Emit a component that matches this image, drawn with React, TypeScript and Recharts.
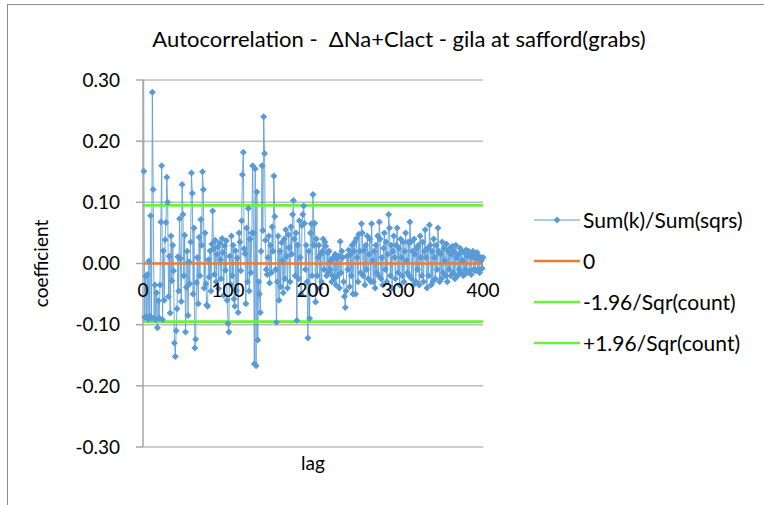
import { CartesianGrid, Legend, Line, LineChart, XAxis, YAxis } from "recharts";

// autocorrelation coefficient for lag 0..400 (lag 0 = 1, clipped off the top)
const coefficients: number[] = [
  1.0, 0.151, -0.088, -0.021, -0.087, -0.018, -0.091, 0.004, -0.086, 0.078,
  -0.089, 0.28, 0.121, -0.09, -0.035, -0.092, -0.048, -0.105, -0.061, -0.089,
  -0.035, 0.068, 0.16, -0.092, 0.021, -0.06, 0.039, 0.067, 0.141, 0.1,
  -0.054, 0.012, -0.081, 0.045, -0.028, 0.03, -0.012, -0.13, -0.152, -0.11,
  -0.074, 0.011, -0.045, 0.073, 0.008, -0.062, 0.129, 0.08, -0.02, 0.046,
  -0.112, -0.039, 0.02, -0.085, 0.003, -0.033, 0.035, 0.148, 0.115, -0.05,
  0.058, -0.138, -0.124, -0.031, 0.01, -0.066, 0.043, -0.02, 0.072, 0.03,
  0.15, 0.121, -0.04, 0.05, -0.033, -0.068, -0.07, 0.006, -0.022, 0.021,
  -0.045, 0.032, 0.086, 0.024, -0.018, 0.038, -0.03, 0.015, 0.027, -0.041,
  0.033, 0.006, -0.025, 0.041, 0.018, -0.052, 0.029, -0.011, 0.037, -0.06,
  -0.098, -0.112, 0.012, -0.034, 0.045, -0.02, 0.03, -0.058, -0.07, 0.021,
  -0.044, 0.009, -0.08, 0.05, 0.035, -0.012, 0.07, 0.145, 0.182, 0.024,
  0.016, -0.066, 0.058, -0.03, 0.09, -0.045, 0.04, -0.015, 0.05, 0.16,
  0.05, -0.164, 0.155, -0.167, 0.117, -0.125, -0.03, -0.05, -0.08, 0.02,
  0.16, 0.054, 0.24, 0.18, 0.038, -0.01, -0.018, 0.01, 0.045, -0.032,
  0.03, -0.015, 0.06, 0.02, 0.143, 0.077, -0.01, -0.096, -0.03, 0.045,
  -0.06, 0.02, -0.038, 0.034, 0.005, -0.048, 0.04, -0.025, 0.055, 0.012,
  -0.04, 0.047, 0.026, -0.03, 0.06, 0.015, 0.08, 0.103, 0.04, -0.02,
  0.05, -0.093, 0.03, -0.025, 0.07, 0.01, -0.05, 0.062, 0.08, 0.094,
  0.066, -0.01, 0.03, -0.03, -0.122, 0.02, -0.09, 0.05, 0.065, -0.02,
  0.113, 0.03, 0.066, -0.063, 0.04, -0.02, 0.01, 0.03, -0.04, 0.015,
  -0.03, 0.02, 0.04, -0.01, 0.035, 0.028, -0.02, 0.018, -0.015, 0.02,
  -0.01, 0.005, -0.03, -0.02, 0.01, -0.025, 0.015, -0.035, 0.008, -0.02,
  0.012, -0.04, 0.036, -0.015, 0.02, 0.01, -0.03, -0.054, -0.072, -0.045,
  0.012, -0.01, 0.022, -0.038, 0.015, -0.02, 0.03, -0.05, 0.02, 0.035,
  -0.05, 0.041, 0.01, -0.03, 0.048, 0.02, -0.015, 0.065, 0.05, -0.02,
  0.022, -0.035, 0.03, -0.01, 0.045, -0.025, 0.015, 0.04, -0.03, 0.065,
  0.005, -0.03, 0.02, -0.04, 0.03, -0.015, 0.045, -0.02, 0.068, 0.04,
  -0.025, 0.01, -0.035, 0.025, 0.05, -0.01, 0.035, -0.03, 0.015, 0.08,
  0.058, -0.02, 0.03, -0.04, 0.02, 0.045, 0.01, -0.025, 0.03, 0.058,
  -0.015, 0.025, -0.035, 0.04, 0.01, -0.02, 0.035, -0.03, 0.02, 0.05,
  0.005, -0.015, 0.035, -0.02, 0.068, 0.035, -0.025, 0.02, -0.035, 0.04,
  0.015, -0.03, 0.025, -0.01, 0.03, -0.035, 0.045, 0.01, -0.02, 0.035,
  -0.03, 0.02, 0.055, 0.01, -0.04, 0.025, -0.02, 0.063, 0.03, -0.035,
  0.02, -0.03, 0.04, 0.01, -0.025, 0.03, -0.01, 0.058, 0.02, -0.03,
  0.015, -0.025, 0.035, -0.015, 0.025, 0.005, -0.02, 0.032, -0.03, 0.02,
  -0.01, 0.025, -0.02, 0.015, 0.028, -0.015, 0.02, -0.025, 0.03, 0.01,
  -0.02, 0.015, -0.01, 0.025, -0.015, 0.02, 0.005, -0.02, 0.018, -0.01,
  0.022, -0.015, 0.012, 0.02, -0.012, 0.015, -0.018, 0.01, 0.02, -0.01,
  0.015, -0.012, 0.008, 0.018, -0.01, 0.012, -0.015, 0.01, 0.005, -0.008,
  0.01,
];

// the three flat reference series, drawn end to end over the lag range
const boundLags = [0, 400];
const zeroValues = [0, 0];
const lowerValues = [-0.095, -0.095];
const upperValues = [0.095, 0.095];

const yTicks = [-0.3, -0.2, -0.1, 0, 0.1, 0.2, 0.3];
const xTicks = [0, 100, 200, 300, 400];

const seriesNames = ["Sum(k)/Sum(sqrs)", "0", "-1.96/Sqr(count)", "+1.96/Sqr(count)"];

const BLUE = "#5B9BD5";
const ORANGE = "#ED7D31";
const GREEN = "#6BF23A";
const FONT = "Lato, 'Open Sans', sans-serif";

const acfData = coefficients.map((coef, lag) => ({ lag, coef }));
const toSeries = (values: number[]) => boundLags.map((lag, i) => ({ lag, value: values[i] }));

interface DotProps {
  cx?: number;
  cy?: number;
  index?: number;
}

function Diamond({ cx, cy, index }: DotProps) {
  if (cx == null || cy == null || Number.isNaN(cx) || Number.isNaN(cy)) return null;
  const r = 3.5;
  return (
    <path
      key={`d-${index}`}
      d={`M${cx},${cy - r}L${cx + r},${cy}L${cx},${cy + r}L${cx - r},${cy}Z`}
      fill={BLUE}
      stroke="none"
    />
  );
}

interface TickProps {
  x?: number;
  y?: number;
  payload?: { value: number };
}

// Excel puts the lag labels just under the zero line, not at the bottom
function LagTick({ x, y, payload }: TickProps) {
  return (
    <text x={x} y={(y ?? 0) - 158} textAnchor="middle" fontSize={19} fontFamily={FONT} fill="#000">
      {payload?.value}
    </text>
  );
}

function LegendBox() {
  const colors = [BLUE, ORANGE, GREEN, GREEN];
  return (
    <div style={{ fontFamily: FONT, fontSize: 21, color: "#000" }}>
      {seriesNames.map((name, i) => (
        <div key={name} style={{ display: "flex", alignItems: "center", height: 41 }}>
          <svg width={48} height={12} style={{ marginRight: 2 }}>
            <line x1={1} y1={6} x2={47} y2={6} stroke={colors[i]} strokeWidth={i === 0 ? 1 : 2.7} />
            {i === 0 && <path d="M24,2.5L27.5,6L24,9.5L20.5,6Z" fill={BLUE} />}
          </svg>
          <span>{name}</span>
        </div>
      ))}
    </div>
  );
}

export default function App() {
  return (
    <div style={{ position: "fixed", left: 0, top: 0, width: 764, height: 505, background: "#fff", overflow: "hidden" }}>
      <div
        style={{
          position: "absolute",
          left: 7,
          top: 4,
          width: 800,
          height: 600,
          borderTop: "1px solid #8c8c8c",
          borderLeft: "1px solid #8c8c8c",
        }}
      />
      <div
        style={{
          position: "absolute",
          left: 0,
          width: 764,
          top: 25,
          textAlign: "center",
          paddingLeft: 34,
          boxSizing: "border-box",
          fontFamily: FONT,
          fontSize: 22,
          whiteSpace: "pre",
          color: "#000",
        }}
      >
        {"Autocorrelation -  ΔNa+Clact - gila at safford(grabs)"}
      </div>
      <LineChart
        width={764}
        height={505}
        margin={{ top: 80, right: 281, left: 8, bottom: 8 }}
        style={{ position: "absolute", left: 0, top: 0 }}
      >
        <CartesianGrid vertical={false} stroke="#BDBDBD" strokeWidth={1.5} />
        <XAxis
          type="number"
          dataKey="lag"
          domain={[0, 400]}
          ticks={xTicks}
          axisLine={false}
          tickLine={false}
          height={50}
          tick={<LagTick />}
          label={{ value: "lag", position: "insideTop", offset: 10, fontSize: 19, fontFamily: FONT, fill: "#000" }}
        />
        <YAxis
          type="number"
          domain={[-0.3, 0.3]}
          allowDataOverflow
          ticks={yTicks}
          width={135}
          tickFormatter={(v: number) => v.toFixed(2)}
          tick={{ fontSize: 19, fontFamily: FONT, fill: "#000" }}
          axisLine={{ stroke: "#A6A6A6", strokeWidth: 1.5 }}
          tickLine={{ stroke: "#A6A6A6", strokeWidth: 1.5 }}
          tickSize={7}
          tickMargin={16}
          label={{ value: "coefficient", angle: -90, position: "insideLeft", offset: 33, fontSize: 19, fontFamily: FONT, fill: "#000", style: { textAnchor: "middle" } }}
        />
        <Line
          data={acfData}
          dataKey="coef"
          name={seriesNames[0]}
          stroke={BLUE}
          strokeWidth={1}
          strokeOpacity={0.85}
          dot={<Diamond />}
          isAnimationActive={false}
        />
        <Line
          data={toSeries(zeroValues)}
          dataKey="value"
          name={seriesNames[1]}
          stroke={ORANGE}
          strokeWidth={2.7}
          dot={false}
          isAnimationActive={false}
        />
        <Line
          data={toSeries(lowerValues)}
          dataKey="value"
          name={seriesNames[2]}
          stroke={GREEN}
          strokeWidth={2.7}
          dot={false}
          isAnimationActive={false}
        />
        <Line
          data={toSeries(upperValues)}
          dataKey="value"
          name={seriesNames[3]}
          stroke={GREEN}
          strokeWidth={2.7}
          dot={false}
          isAnimationActive={false}
        />
        <Legend
          layout="vertical"
          align="center"
          verticalAlign="middle"
          content={<LegendBox />}
          wrapperStyle={{ left: 533, top: 199, width: 230 }}
        />
      </LineChart>
    </div>
  );
}
